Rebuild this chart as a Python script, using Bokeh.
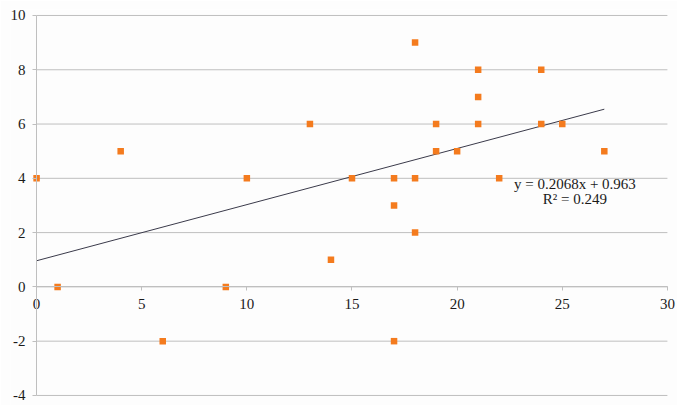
from bokeh.plotting import figure
from bokeh.models import Range1d, FixedTicker, Label, ColumnDataSource
from bokeh.embed import file_html
from bokeh.resources import INLINE

x_vals = [0, 1, 4, 6, 9, 10, 13, 14, 15, 17, 17, 17, 18, 18, 18, 19, 19, 20, 21, 21, 21, 22, 24, 24, 25, 27]
y_vals = [4, 0, 5, -2, 0, 4, 6, 1, 4, 4, 3, -2, 9, 4, 2, 6, 5, 5, 8, 7, 6, 4, 8, 6, 6, 5]

slope = 0.2068
intercept = 0.963
r2 = 0.249
trend_x = [0, 27]
trend_y = [intercept + slope * t for t in trend_x]

x_ticks = [0, 5, 10, 15, 20, 25, 30]
y_ticks = [-4, -2, 0, 2, 4, 6, 8, 10]
y_tick_labels = ["-4", "-2", "0", "2", "4", "6", "8", "10"]
x_tick_labels = ["0", "5", "10", "15", "20", "25", "30"]
x_min, x_max = 0, 30
y_min, y_max = -4, 10

FONT = "Liberation Serif"
GRID = "#bfbfbf"

p = figure(width=677, height=405, output_backend="svg", toolbar_location=None,
           x_range=Range1d(-1.24, 30.48), y_range=Range1d(-4.37, 10.22),
           frame_width=667, frame_height=396,
           min_border_left=10, min_border_top=9, min_border_right=0, min_border_bottom=0)
p.background_fill_color = "#fdfdfd"
p.border_fill_color = "#fdfdfd"
p.outline_line_color = None
p.xgrid.grid_line_color = None
p.ygrid.grid_line_color = None

# horizontal gridlines spanning only the data range
p.segment(x0=[x_min] * len(y_ticks), x1=[x_max] * len(y_ticks), y0=y_ticks, y1=y_ticks,
          line_color=GRID, line_width=1)

p.xaxis.ticker = FixedTicker(ticks=x_ticks)
p.xaxis.major_label_overrides = {t: l for t, l in zip(x_ticks, x_tick_labels)}
p.xaxis.fixed_location = 0
p.xaxis.bounds = (x_min, x_max)
p.xaxis.axis_line_color = GRID
p.xaxis.major_tick_line_color = GRID
p.xaxis.major_tick_out = 4
p.xaxis.major_tick_in = 0
p.xaxis.minor_tick_line_color = None
p.xaxis.major_label_text_font = FONT
p.xaxis.major_label_text_font_size = "15px"
p.xaxis.major_label_text_color = "#1a1a1a"
p.xaxis.major_label_standoff = 8

p.yaxis.ticker = FixedTicker(ticks=y_ticks)
p.yaxis.major_label_overrides = {t: l for t, l in zip(y_ticks, y_tick_labels)}
p.yaxis.fixed_location = 0
p.yaxis.bounds = (y_min, y_max)
p.yaxis.axis_line_color = GRID
p.yaxis.major_tick_line_color = GRID
p.yaxis.major_tick_out = 4
p.yaxis.major_tick_in = 0
p.yaxis.minor_tick_line_color = None
p.yaxis.major_label_text_font = FONT
p.yaxis.major_label_text_font_size = "15px"
p.yaxis.major_label_text_color = "#1a1a1a"
p.yaxis.major_label_standoff = 7

p.line(trend_x, trend_y, line_color="#3a3a4a", line_width=1)

src = ColumnDataSource(dict(x=x_vals, y=y_vals))
p.scatter("x", "y", source=src, marker="square", size=6.5, fill_color="#F47B1E", line_color=None)

p.add_layout(Label(x=25.6, y=3.8, text=f"y = {slope}x + {intercept}", text_align="center",
                   text_baseline="middle", text_font=FONT, text_font_size="15px", text_color="#1a1a1a"))
p.add_layout(Label(x=25.6, y=3.22, text=f"R² = {r2}", text_align="center",
                   text_baseline="middle", text_font=FONT, text_font_size="15px", text_color="#1a1a1a"))

open("out.html", "w").write(file_html(p, INLINE))
